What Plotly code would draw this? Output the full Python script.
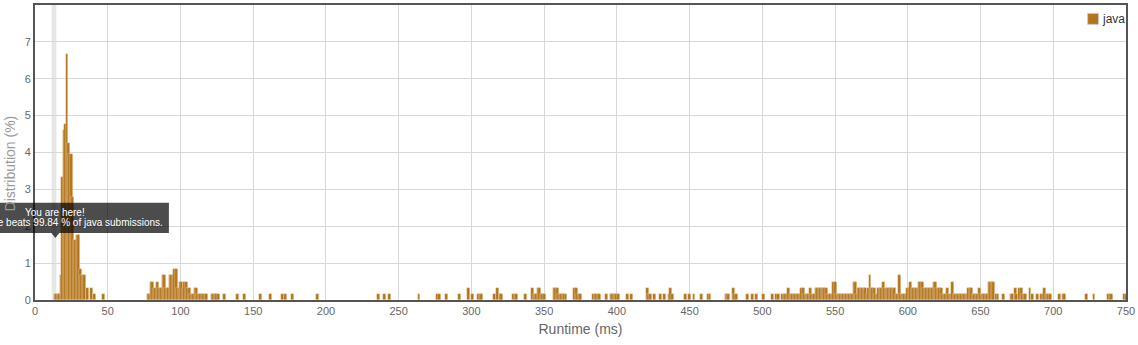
import plotly.graph_objects as go

# ---- data (runtime in ms, share of submissions in %) ----
peak_bins = [(14, 0.17), (15, 0.17), (16, 0.17), (17, 0.17), (18, 0.67), (19, 3.33),
             (20, 4.6), (21, 4.77), (22, 6.67), (23, 4.27), (24, 3.95), (25, 3.95),
             (26, 2.8), (27, 1.63), (28, 1.63), (29, 1.77), (30, 1.77), (31, 0.83),
             (32, 0.67), (33, 0.67), (34, 0.67), (36, 0.33), (39, 0.33), (41, 0.17),
             (47, 0.17)]

mid_bins = [(78, 0.17), (79, 0.17), (80, 0.5), (81, 0.5), (82, 0.33), (83, 0.33),
            (84, 0.5), (85, 0.33), (86, 0.33), (87, 0.33), (88, 0.67), (89, 0.67),
            (90, 0.33), (91, 0.33), (92, 0.33), (93, 0.67), (94, 0.67), (95, 0.67),
            (96, 0.83), (97, 0.83), (98, 0.33), (99, 0.33), (100, 0.5), (101, 0.5),
            (102, 0.33), (103, 0.5), (104, 0.5), (105, 0.33), (106, 0.33), (107, 0.17),
            (108, 0.17), (109, 0.17), (110, 0.33), (111, 0.33), (112, 0.17), (113, 0.17),
            (114, 0.17), (115, 0.17), (116, 0.17), (117, 0.17), (118, 0.17), (122, 0.17),
            (123, 0.17), (124, 0.17), (125, 0.17), (126, 0.17), (130, 0.17), (139, 0.17),
            (144, 0.17), (155, 0.17), (162, 0.17), (170, 0.17), (172, 0.17), (177, 0.17),
            (194, 0.17)]

tail_bins_a = [(236, 0.17), (240, 0.17), (244, 0.17), (264, 0.17), (277, 0.17), (278, 0.17),
               (283, 0.17), (292, 0.17), (298, 0.33), (301, 0.17), (305, 0.17), (306, 0.17),
               (307, 0.17), (316, 0.17), (318, 0.33), (320, 0.17), (321, 0.17), (329, 0.17),
               (330, 0.17), (331, 0.17), (337, 0.17), (342, 0.33), (343, 0.17), (344, 0.17),
               (345, 0.17), (346, 0.33), (347, 0.33), (348, 0.17), (349, 0.17), (350, 0.17),
               (357, 0.33), (358, 0.33), (359, 0.33), (360, 0.17), (361, 0.17), (362, 0.17),
               (363, 0.17), (364, 0.17), (365, 0.17), (371, 0.33), (372, 0.33), (373, 0.17),
               (374, 0.17), (375, 0.17), (384, 0.17), (385, 0.17), (386, 0.17), (387, 0.17),
               (388, 0.17), (393, 0.17), (396, 0.17), (397, 0.17), (398, 0.17), (399, 0.17),
               (400, 0.17), (401, 0.17), (407, 0.17), (410, 0.17), (421, 0.33), (422, 0.17),
               (423, 0.17), (426, 0.17), (430, 0.17), (433, 0.17), (436, 0.17), (437, 0.33),
               (438, 0.17), (447, 0.17), (450, 0.17), (453, 0.17), (458, 0.17), (463, 0.17),
               (464, 0.17), (475, 0.17), (476, 0.17), (477, 0.17), (480, 0.33), (481, 0.17),
               (482, 0.17), (490, 0.17), (493, 0.17), (496, 0.17)]

tail_bins_b = [(501, 0.17), (507, 0.17), (510, 0.17), (511, 0.17), (514, 0.17), (515, 0.17),
               (516, 0.17), (517, 0.17), (518, 0.33), (519, 0.17), (520, 0.17), (521, 0.17),
               (522, 0.17), (523, 0.17), (524, 0.17), (525, 0.17), (526, 0.17), (527, 0.33),
               (528, 0.33), (529, 0.17), (530, 0.17), (531, 0.17), (532, 0.17), (533, 0.33),
               (534, 0.17), (535, 0.17), (536, 0.17), (537, 0.33), (538, 0.33), (539, 0.33),
               (540, 0.33), (541, 0.33), (542, 0.33), (543, 0.33), (544, 0.33), (545, 0.17),
               (546, 0.17), (547, 0.17), (548, 0.17), (549, 0.5), (550, 0.5), (551, 0.17),
               (552, 0.17), (553, 0.17), (554, 0.17), (555, 0.17), (556, 0.17), (557, 0.17),
               (558, 0.17), (559, 0.17), (560, 0.17), (561, 0.17), (562, 0.17), (563, 0.5),
               (564, 0.5), (565, 0.17), (566, 0.33), (567, 0.33), (568, 0.33), (569, 0.33),
               (570, 0.33), (571, 0.33), (572, 0.17), (573, 0.33), (574, 0.67), (575, 0.33),
               (576, 0.33), (577, 0.33), (578, 0.17), (579, 0.17), (580, 0.33), (581, 0.33),
               (582, 0.33), (583, 0.5), (584, 0.33), (585, 0.33), (586, 0.33), (587, 0.33),
               (588, 0.33), (589, 0.33), (590, 0.33), (591, 0.33), (592, 0.17), (593, 0.17),
               (594, 0.67), (595, 0.17), (596, 0.17), (597, 0.17), (598, 0.17), (599, 0.17),
               (600, 0.33), (601, 0.33), (602, 0.5), (603, 0.33), (604, 0.33), (605, 0.33),
               (606, 0.33), (607, 0.33), (608, 0.5), (609, 0.5), (610, 0.5), (611, 0.33)]

tail_bins_c = [(612, 0.33), (613, 0.33), (614, 0.33), (615, 0.33), (616, 0.33), (617, 0.33),
               (618, 0.5), (619, 0.5), (620, 0.33), (621, 0.33), (622, 0.33), (623, 0.33),
               (624, 0.17), (625, 0.17), (626, 0.17), (627, 0.33), (628, 0.17), (629, 0.17),
               (630, 0.17), (631, 0.5), (632, 0.17), (633, 0.17), (634, 0.17), (635, 0.17),
               (636, 0.17), (637, 0.17), (638, 0.17), (639, 0.17), (640, 0.17), (641, 0.17),
               (642, 0.33), (643, 0.33), (644, 0.33), (645, 0.17), (646, 0.17), (647, 0.17),
               (648, 0.17), (649, 0.33), (650, 0.17), (651, 0.17), (652, 0.17), (653, 0.17),
               (654, 0.17), (655, 0.17), (656, 0.5), (657, 0.5), (658, 0.5), (659, 0.5),
               (661, 0.17), (662, 0.17), (666, 0.17), (671, 0.17), (672, 0.17), (674, 0.33),
               (675, 0.17), (677, 0.33), (678, 0.33), (679, 0.17), (680, 0.17), (681, 0.17),
               (684, 0.33), (686, 0.17), (689, 0.17), (692, 0.17), (693, 0.17), (694, 0.33),
               (695, 0.17), (696, 0.17), (697, 0.17), (698, 0.17), (704, 0.17), (707, 0.17),
               (708, 0.17), (723, 0.17), (728, 0.17), (738, 0.17), (739, 0.17), (740, 0.17),
               (749, 0.17), (750, 0.17)]

x_tick_values = [0, 50, 100, 150, 200, 250, 300, 350, 400, 450, 500, 550, 600, 650, 700, 750]
y_tick_values = [0, 1, 2, 3, 4, 5, 6, 7]
language = "java"
user_runtime = 13
beats_pct = 99.84

# ---- build ----
all_bins = peak_bins + mid_bins + tail_bins_a + tail_bins_b + tail_bins_c
runtime_ms = [b[0] for b in all_bins]
share_pct = [b[1] for b in all_bins]

X_MAX = 750
Y_MAX = 8
BAR = "rgb(178,116,28)"
FONT = "Liberation Sans, Arial, sans-serif"

fig = go.Figure()
fig.add_trace(go.Bar(
    x=runtime_ms, y=share_pct, width=2.0, name=language, showlegend=False,
    marker=dict(color=BAR, line=dict(color="rgba(255,236,205,0.55)", width=0.6)),
    hoverinfo="x+y",
))

fig.update_layout(
    width=1138, height=345, autosize=False,
    margin=dict(l=35, r=10, t=3, b=45),
    plot_bgcolor="white", paper_bgcolor="white",
    font=dict(family=FONT, size=11, color="#666"),
    bargap=0,
    xaxis=dict(
        range=[0, X_MAX], tickvals=x_tick_values, ticks="", showgrid=True,
        gridcolor="#d8d8d8", gridwidth=1, zeroline=False,
        showline=True, linecolor="#555", linewidth=2, mirror=True,
        tickfont=dict(size=11, color="#666"),
        title=dict(text="Runtime (ms)", font=dict(size=14, color="#666"), standoff=8),
    ),
    yaxis=dict(
        range=[0, Y_MAX], tickvals=y_tick_values, ticks="", showgrid=True,
        gridcolor="#d8d8d8", gridwidth=1, zeroline=False,
        showline=True, linecolor="#555", linewidth=2, mirror=True,
        tickfont=dict(size=11, color="#666"),
    ),
)

# "you are here" band
fig.add_shape(type="rect", xref="x", yref="paper", x0=user_runtime - 1.5, x1=user_runtime + 1.7,
              y0=0, y1=1, fillcolor="#e6e6e6", line=dict(width=0), layer="below")

# y axis title
fig.add_annotation(xref="paper", yref="paper", x=-0.0229, y=0.463, text="Distribution (%)",
                   textangle=-90, showarrow=False, font=dict(size=14, color="#999", family=FONT),
                   xanchor="center", yanchor="middle")

# legend (swatch + label)
fig.add_shape(type="rect", xref="paper", yref="paper", x0=0.9648, x1=0.9749, y0=0.9343, y1=0.9714,
              fillcolor=BAR, line=dict(color="#cccccc", width=1), layer="above")
fig.add_annotation(xref="paper", yref="paper", x=0.9762, y=0.9529, text=language, showarrow=False,
                   xanchor="left", yanchor="middle", font=dict(size=12, color="#333", family=FONT))

# tooltip (paper-referenced so it is not clipped by the plot area)
tip_y = 1.678
ax = user_runtime / X_MAX
ay = tip_y / Y_MAX
fig.add_shape(type="rect", xref="paper", yref="paper", xsizemode="pixel", ysizemode="pixel",
              xanchor=ax, yanchor=ay, x0=-114, x1=115, y0=5, y1=35.4,
              fillcolor="rgba(0,0,0,0.7)", line=dict(width=0), layer="above")
fig.add_shape(type="path", xref="paper", yref="paper", xsizemode="pixel", ysizemode="pixel",
              xanchor=ax, yanchor=ay, path="M -2.5 5 L 1.4 0 L 5.4 5 Z",
              fillcolor="rgba(0,0,0,0.7)", line=dict(width=0), layer="above")
fig.add_annotation(xref="paper", yref="paper", x=ax, y=ay, xshift=1, yshift=26,
                   text="You are here!", showarrow=False, xanchor="center", yanchor="middle",
                   font=dict(size=10, color="white", family=FONT))
fig.add_annotation(xref="paper", yref="paper", x=ax, y=ay, xshift=1, yshift=16,
                   text=f"Your runtime beats {beats_pct} % of {language} submissions.",
                   showarrow=False, xanchor="center", yanchor="middle",
                   font=dict(size=10, color="white", family=FONT))

fig.write_html("out.html")
